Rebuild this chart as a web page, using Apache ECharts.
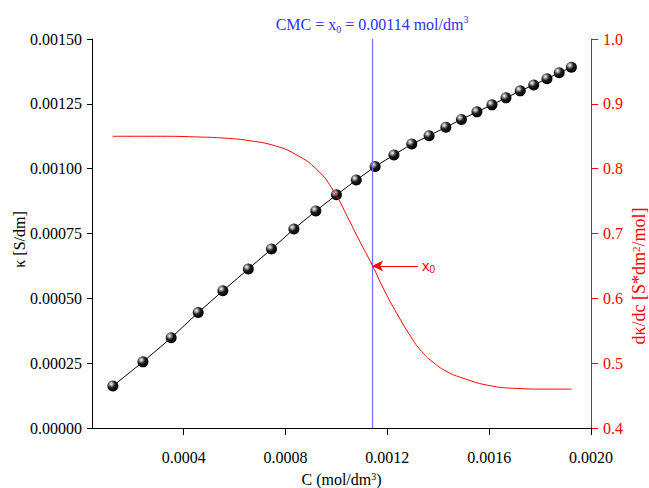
<!DOCTYPE html>
<html>
<head>
<meta charset="utf-8">
<script src="https://cdn.jsdelivr.net/npm/echarts@6/dist/echarts.min.js"></script>
<style>
  html, body { margin: 0; padding: 0; background: #fff; }
</style>
</head>
<body>
<div id="box" style="width:649px;height:488px"></div>
<script>
// conductivity measurements
let concX = [0.000122, 0.000240, 0.000351, 0.000457, 0.000554, 0.000654, 0.000745, 0.000833, 0.000919, 0.001000,
  0.001078, 0.001152, 0.001226, 0.001296, 0.001364, 0.001430, 0.001491, 0.001552, 0.001611, 0.001666,
  0.001722, 0.001775, 0.001827, 0.001875, 0.001923];
let kappa = [0.000162, 0.000255, 0.000348, 0.000445, 0.000529, 0.000613, 0.000690, 0.000767, 0.000837, 0.000899,
  0.000956, 0.001008, 0.001053, 0.001095, 0.001127, 0.001160, 0.001190, 0.001219, 0.001246, 0.001273,
  0.001300, 0.001323, 0.001347, 0.001370, 0.001391];

// derivative curve dk/dc
let derivX = [0.000121, 0.000308, 0.000446, 0.000564, 0.000662, 0.000761, 0.000840, 0.000925, 0.000990, 0.001043,
  0.001089, 0.001141, 0.001187, 0.001237, 0.001292, 0.001335, 0.001384, 0.001434, 0.001489, 0.001594,
  0.001712, 0.001823, 0.001924];
let derivY = [0.850, 0.850, 0.849, 0.847, 0.843, 0.835, 0.822, 0.798, 0.765, 0.726,
  0.690, 0.651, 0.613, 0.577, 0.541, 0.518, 0.500, 0.487, 0.478, 0.466,
  0.461, 0.460, 0.460];

let cmc = 0.00114;
let arrowX = [0.00132, 0.00114];
let arrowY = 0.65;

let xTicks = [0.0004, 0.0008, 0.0012, 0.0016, 0.0020];
let xMin = 0.00004, xMax = 0.0020;

const serif = "'Liberation Serif', 'DejaVu Serif', serif";

let ball = {
  type: "radial", x: 0.35, y: 0.32, r: 0.7,
  colorStops: [
    { offset: 0, color: "#ffffff" },
    { offset: 0.18, color: "#b0b0b0" },
    { offset: 0.5, color: "#1c1c1c" },
    { offset: 1, color: "#000000" }
  ]
};

let options = {
  animation: false,
  backgroundColor: "#fff",
  grid: { left: 92, right: 58, top: 39, bottom: 60, outerBoundsMode: "none" },
  xAxis: {
    type: "value",
    min: xMin,
    max: xMax,
    axisLine: { show: true, onZero: false, lineStyle: { color: "#000", width: 1 } },
    axisTick: { show: true, length: 7, customValues: xTicks, lineStyle: { color: "#000" } },
    axisLabel: {
      customValues: xTicks,
      formatter: v => v.toFixed(4),
      margin: 21, fontSize: 16, fontFamily: serif, color: "#000"
    },
    splitLine: { show: false },
    name: "{a|C (mol/dm}{sup|3}{a|)}",
    nameLocation: "middle",
    nameGap: 43,
    nameMoveOverlap: false,
    nameTextStyle: {
      rich: {
        a: { fontSize: 16, fontFamily: serif, color: "#000", lineHeight: 16, verticalAlign: "middle" },
        sup: { fontSize: 10, fontFamily: serif, color: "#000", lineHeight: 8, verticalAlign: "top" }
      }
    }
  },
  yAxis: [
    {
      type: "value",
      position: "left",
      min: 0, max: 0.0015, interval: 0.00025,
      axisLine: { show: true, onZero: false, lineStyle: { color: "#000", width: 1 } },
      axisTick: { show: true, length: 5, lineStyle: { color: "#000" } },
      axisLabel: { formatter: v => v.toFixed(5), margin: 10, fontSize: 16, fontFamily: serif, color: "#000" },
      splitLine: { show: false },
      name: "κ [S/dm]",
      nameLocation: "middle",
      nameRotate: 90,
      nameGap: 65,
      nameMoveOverlap: false,
      nameTextStyle: { fontSize: 16, lineHeight: 16, fontFamily: serif, color: "#000", padding: [0, 12, 0, 0] }
    },
    {
      type: "value",
      position: "right",
      min: 0.4, max: 1.0, interval: 0.1,
      axisLine: { show: true, onZero: false, lineStyle: { color: "#ff0000", width: 1 } },
      axisTick: { show: true, length: 7, lineStyle: { color: "#ff0000" } },
      axisLabel: { formatter: v => v.toFixed(1), margin: 12, fontSize: 16, fontFamily: serif, color: "#ff0000" },
      splitLine: { show: false },
      name: "{a|dκ/dc [S*dm}{sup|2}{a|/mol]}",
      nameLocation: "middle",
      nameRotate: 90,
      nameGap: 39,
      nameMoveOverlap: false,
      nameTextStyle: {
        padding: [0, 85, 0, 0],
        rich: {
          a: { fontSize: 18, fontFamily: serif, color: "#ff0000", lineHeight: 18, verticalAlign: "middle" },
          sup: { fontSize: 11, fontFamily: serif, color: "#ff0000", lineHeight: 9, verticalAlign: "top" }
        }
      }
    }
  ],
  series: [
    {
      name: "kappa",
      type: "line",
      yAxisIndex: 0,
      data: concX.map((x, i) => [x, kappa[i]]),
      symbol: "circle",
      symbolSize: 11,
      lineStyle: { color: "#000", width: 1 },
      itemStyle: { color: ball, borderWidth: 0 },
      z: 3,
      markLine: {
        silent: true,
        symbol: ["none", "none"],
        lineStyle: { color: "#6e6eff", width: 1.2, type: "solid" },
        label: {
          show: true,
          position: "end",
          distance: 5,
          formatter: "{a|CMC = x}{sub|0}{a| = " + cmc.toFixed(5) + " mol/dm}{sup|3}",
          rich: {
            a: { fontSize: 16, fontFamily: serif, color: "#3030ff", lineHeight: 20, verticalAlign: "middle" },
            sub: { fontSize: 10, fontFamily: serif, color: "#3030ff", lineHeight: 10, verticalAlign: "bottom" },
            sup: { fontSize: 10, fontFamily: serif, color: "#3030ff", lineHeight: 10, verticalAlign: "top" }
          }
        },
        data: [[{ coord: [cmc, 0] }, { coord: [cmc, 0.0015] }]]
      }
    },
    {
      name: "deriv",
      type: "line",
      yAxisIndex: 1,
      data: derivX.map((x, i) => [x, derivY[i]]),
      smooth: 0.5,
      showSymbol: false,
      lineStyle: { color: "#ff0000", width: 1 },
      z: 4,
      markLine: {
        silent: true,
        symbol: ["none", "arrow"],
        symbolSize: [8, 11],
        lineStyle: { color: "#ff0000", width: 1.2, type: "solid" },
        label: {
          show: true,
          position: "start",
          distance: 4,
          formatter: "{a|x}{sub|0}",
          rich: {
            a: { fontSize: 15, fontFamily: "'Liberation Sans', Arial, sans-serif", color: "#ff0000", lineHeight: 18, verticalAlign: "middle" },
            sub: { fontSize: 10, fontFamily: "'Liberation Sans', Arial, sans-serif", color: "#ff0000", lineHeight: 10, verticalAlign: "bottom" }
          }
        },
        data: [[{ coord: [arrowX[0], arrowY] }, { coord: [arrowX[1], arrowY] }]]
      }
    }
  ]
};

let chart = echarts.init(document.getElementById("box"), null, { renderer: "svg" });
chart.setOption(options);
</script>
</body>
</html>
